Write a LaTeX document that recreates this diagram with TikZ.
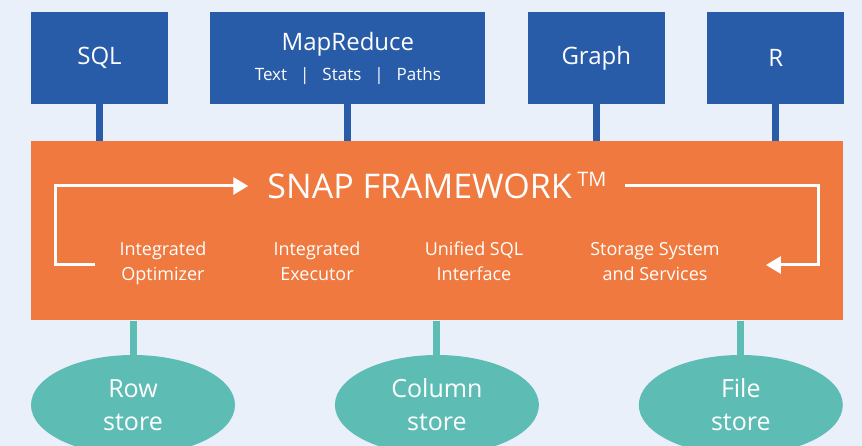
\documentclass[tikz,border=0pt]{standalone}
\usepackage{fontspec}
\setmainfont{Open Sans}
\usepackage{tikz}
\usetikzlibrary{positioning,shapes.geometric,arrows.meta}

\definecolor{pagebg}{RGB}{234,240,250}
\definecolor{snapblue}{RGB}{40,91,168}
\definecolor{snaporange}{RGB}{239,121,62}
\definecolor{snapteal}{RGB}{93,189,181}

\begin{document}
\begin{tikzpicture}[x=1pt,
            y=1pt,
            node distance=42pt,
            api/.style={fill=snapblue,text=white,inner sep=0pt,
                        minimum width=137pt,minimum height=92pt,align=center,
                        font=\fontsize{24}{28}\selectfont},
            framebox/.style={fill=snaporange,inner sep=0pt,
                        minimum width=812pt,minimum height=179pt},
            part/.style={text=white,inner sep=0pt,align=center,
                        font=\fontsize{18}{25}\selectfont,
                        execute at begin node=\strut,execute at end node=\strut},
            disk/.style={ellipse,fill=snapteal,text=white,inner sep=0pt,
                        minimum width=204pt,minimum height=100pt,align=center,
                        font=\fontsize{25}{33}\selectfont},
            uplink/.style={draw=snapblue,line width=7pt},
            downlink/.style={draw=snapteal,line width=7pt},
            flow/.style={draw=white,line width=3pt,
                        -{Triangle[length=15pt,width=17pt]}}]

        \useasboundingbox[fill=pagebg] (0,0) rectangle (862,446);
        \clip (0,0) rectangle (862,446);

        % query interfaces
        \node[api]                    (sql)   at (99.5,388)  {SQL};
        \node[api,minimum width=275pt] (mr)   [right=of sql] {MapReduce\\[2pt]
              {\fontsize{17}{19}\selectfont Text\hspace{13pt}\textbar\hspace{13pt}Stats\hspace{13pt}\textbar\hspace{13pt}Paths}};
        \node[api]                    (graph) [right=of mr]    {Graph};
        \node[api]                    (r)     [right=of graph] {R};

        % framework
        \node[framebox] (fw) [below=37pt of sql.south west,anchor=north west] {};
        \node[text=white,inner sep=0pt,font=\fontsize{34}{37}\selectfont] (title) at (437,260)
              {SNAP FRAMEWORK\,\raisebox{12pt}{\fontsize{20}{20}\selectfont TM}};
        \node[part] (opt)   at (163,181) {Integrated\\Optimizer};
        \node[part] (exec)  at (317,181) {Integrated\\Executor};
        \node[part] (sqlif) at (474,181) {Unified SQL\\Interface};
        \node[part] (stor)  at (655,181) {Storage System\\and Services};

        % stores
        \node[disk] (row)  at (133,41)              {Row\\store};
        \node[disk] (col)  [right=99.5pt of row]    {Column\\store};
        \node[disk] (file) [right=99.5pt of col]    {File\\store};

        \path (sql)   edge [uplink]   (sql |- fw.north)
              (mr)    edge [uplink]   (mr |- fw.north)
              (graph) edge [uplink]   (graph |- fw.north)
              (r)     edge [uplink]   (r |- fw.north)
              (row)   edge [downlink] (row |- fw.south)
              (col)   edge [downlink] (col |- fw.south)
              (file)  edge [downlink] (file |- fw.south);

        \draw[flow] ([xshift=-24pt]opt.west) -- ++(-40pt,0) |- ([xshift=-19pt]title.west);
        \draw[flow] ([xshift=18pt]title.east) -- ++(194pt,0) |- ([xshift=46pt]stor.east);

    \end{tikzpicture}
\end{document}
